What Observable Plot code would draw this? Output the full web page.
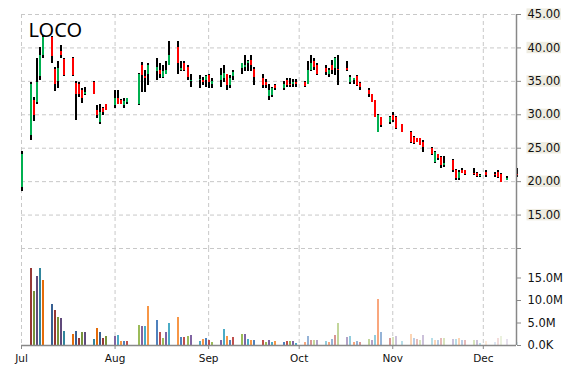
<!DOCTYPE html>
<html>
<head>
<meta charset="utf-8">
<script src="https://cdn.jsdelivr.net/npm/d3@7"></script>
<script src="https://cdn.jsdelivr.net/npm/@observablehq/plot@0.6"></script>
<style>
  html, body { margin: 0; padding: 0; background: #fff; }
  #chart { position: relative; width: 570px; height: 370px; overflow: hidden; }
  #chart svg { position: absolute; left: 0; display: block; }
</style>
</head>
<body>
<div id="chart"></div>
<script>
// ---------------- data ----------------
const ticker = "LOCO";
const dates = [
  "2016-07-01",
  "2016-07-04","2016-07-05","2016-07-06","2016-07-07","2016-07-08",
  "2016-07-11","2016-07-12","2016-07-13","2016-07-14","2016-07-15",
  "2016-07-18","2016-07-19","2016-07-20","2016-07-21","2016-07-22",
  "2016-07-25","2016-07-26","2016-07-27","2016-07-28","2016-07-29",
  "2016-08-01","2016-08-02","2016-08-03","2016-08-04","2016-08-05",
  "2016-08-09","2016-08-10","2016-08-11","2016-08-12",
  "2016-08-15","2016-08-16","2016-08-17","2016-08-18","2016-08-19",
  "2016-08-22","2016-08-23","2016-08-24","2016-08-25","2016-08-26",
  "2016-08-29","2016-08-30","2016-08-31","2016-09-01","2016-09-02",
  "2016-09-05","2016-09-06","2016-09-07","2016-09-08","2016-09-09",
  "2016-09-12","2016-09-13","2016-09-14","2016-09-15","2016-09-16",
  "2016-09-19","2016-09-20","2016-09-21","2016-09-22","2016-09-23",
  "2016-09-26","2016-09-27","2016-09-28","2016-09-29","2016-09-30",
  "2016-10-03","2016-10-04","2016-10-05","2016-10-06","2016-10-07",
  "2016-10-10","2016-10-11","2016-10-12","2016-10-13","2016-10-14",
  "2016-10-17","2016-10-18","2016-10-19","2016-10-20","2016-10-21",
  "2016-10-24","2016-10-25","2016-10-26","2016-10-27","2016-10-28",
  "2016-10-31","2016-11-01","2016-11-02","2016-11-04",
  "2016-11-07","2016-11-08","2016-11-09","2016-11-10","2016-11-11",
  "2016-11-14","2016-11-15","2016-11-16","2016-11-17","2016-11-18",
  "2016-11-21","2016-11-22","2016-11-23","2016-11-24","2016-11-25",
  "2016-11-28","2016-11-29","2016-11-30","2016-12-02",
  "2016-12-05","2016-12-06","2016-12-07","2016-12-09",
  "2016-12-12"
];
const opens = [
  19.15,
  26.9, 32.1, 31.9, 35.7, 38.9,
  41.6, 36.8, 35.0, 39.5, 38.2,
  38.4, 34.7, 34.6, 33.6, 33.1,
  34.9, 30.6, 28.9, 30.9, 31.5,
  31.4, 32.5, 32.2, 31.4, 31.9,
  31.6, 37.4, 35.8, 36.1,
  36.5, 36.6, 35.6, 36.1, 37.4,
  40.1, 36.6, 37.6, 37.1, 35.0,
  35.1, 35.2, 35.1, 35.9, 34.6,
  35.2, 35.5, 36.1, 34.4, 35.8,
  36.9, 37.1, 37.6, 38.1, 36.7,
  35.4, 34.9, 32.7, 32.9, 34.4,
  33.9, 35.1, 34.6, 34.6, 34.9,
  34.9, 34.6, 36.6, 37.9, 37.4,
  36.9, 36.1, 37.4, 36.9, 36.8,
  36.9, 34.9, 35.1, 35.8, 34.7,
  33.7, 33.0, 32.1, 27.4, 29.6,
  28.8, 29.9, 29.6, 28.6,
  27.4, 26.6, 26.4, 26.5, 25.9,
  24.9, 22.9, 24.0, 23.6, 22.4,
  23.1, 21.7, 20.4, 21.7, 21.6,
  21.2, 21.2, 20.8, 21.3,
  21.0, 21.3, 21.0, 20.1,
  21.0
];
const highs = [
  24.5,
  34.9, 32.6, 38.4, 40.1, 41.8,
  41.7, 37.1, 38.0, 40.4, 38.4,
  38.5, 35.0, 34.8, 33.9, 34.1,
  35.0, 31.4, 31.6, 31.1, 31.6,
  33.7, 33.7, 32.3, 32.4, 32.5,
  36.2, 37.8, 36.6, 37.6,
  38.4, 37.6, 37.4, 37.9, 40.9,
  40.9, 37.9, 37.9, 37.3, 36.1,
  35.9, 35.6, 35.9, 36.1, 35.5,
  36.9, 37.4, 36.1, 35.9, 36.6,
  37.6, 38.9, 38.1, 38.9, 37.0,
  36.1, 35.3, 34.6, 34.1, 34.6,
  35.0, 35.5, 35.5, 35.3, 35.3,
  35.0, 37.9, 38.9, 38.4, 37.6,
  37.4, 36.9, 38.1, 38.6, 38.9,
  37.9, 35.9, 35.5, 35.9, 34.9,
  33.9, 33.1, 32.2, 30.1, 29.6,
  29.8, 30.4, 29.7, 28.6,
  27.5, 26.7, 26.5, 26.5, 26.1,
  25.1, 24.5, 24.1, 23.7, 23.7,
  23.3, 21.8, 21.6, 22.0, 21.7,
  21.9, 21.3, 21.0, 21.6,
  21.4, 21.6, 21.2, 20.7,
  21.9
];
const lows = [
  18.55,
  26.1, 29.0, 31.6, 35.1, 38.4,
  37.6, 33.5, 34.0, 38.4, 35.8,
  35.8, 29.1, 32.6, 31.7, 32.9,
  33.0, 29.4, 28.6, 29.9, 30.6,
  31.0, 31.5, 31.5, 31.0, 31.5,
  31.4, 33.4, 33.4, 34.4,
  35.1, 35.4, 35.4, 36.1, 37.4,
  36.1, 36.4, 36.4, 35.2, 34.1,
  33.9, 34.4, 34.1, 34.0, 34.0,
  34.1, 34.9, 33.7, 33.9, 35.1,
  36.1, 36.4, 36.4, 36.4, 34.4,
  33.9, 33.9, 32.1, 32.6, 33.6,
  33.6, 34.1, 34.1, 34.1, 34.1,
  34.1, 34.6, 36.4, 36.6, 35.9,
  35.9, 35.6, 36.1, 35.9, 34.4,
  36.4, 34.6, 34.5, 34.3, 33.6,
  32.6, 31.8, 29.6, 27.4, 28.1,
  28.6, 28.9, 27.8, 27.4,
  25.7, 25.6, 25.9, 25.4, 24.4,
  23.9, 22.7, 23.1, 21.9, 22.1,
  21.4, 20.2, 20.2, 21.2, 20.9,
  20.9, 20.6, 20.6, 20.6,
  20.6, 20.4, 19.9, 20.1,
  20.6
];
const closes = [
  24.0,
  34.6, 29.9, 34.8, 38.9, 41.6,
  38.7, 34.5, 36.9, 38.9, 35.9,
  35.9, 33.1, 33.1, 32.4, 33.4,
  33.1, 29.9, 30.4, 30.4, 30.6,
  32.4, 31.6, 31.6, 32.0, 32.4,
  36.1, 35.9, 35.4, 37.4,
  37.0, 36.0, 36.4, 36.6, 38.9,
  37.6, 36.9, 36.6, 35.6, 35.2,
  35.3, 34.9, 35.7, 34.9, 35.0,
  35.9, 36.2, 34.4, 35.4, 36.3,
  37.6, 37.4, 37.9, 37.4, 35.6,
  34.4, 34.4, 33.6, 33.9, 33.9,
  34.6, 34.4, 34.4, 34.9, 34.6,
  34.2, 36.6, 37.6, 37.1, 36.1,
  36.3, 36.6, 36.6, 38.4, 36.6,
  36.6, 35.6, 35.4, 34.4, 34.1,
  33.1, 31.9, 29.6, 29.9, 28.4,
  29.6, 29.2, 27.9, 27.4,
  25.8, 25.7, 25.9, 25.4, 25.1,
  24.1, 24.3, 23.4, 22.4, 22.7,
  21.6, 20.4, 21.4, 21.2, 21.0,
  21.1, 20.7, 20.9, 20.9,
  20.9, 20.6, 19.9, 20.5,
  20.9
];
// volume in millions of shares
const volumes = [
  0,
  17.1, 11.9, 15.3, 17.1, 14.4,
  9.1, 7.7, 6.2, 6.0, 3.1,
  2.4, 3.1, 1.5, 2.9, 2.9,
  1.3, 3.8, 2.9, 1.5, 2.0,
  2.0, 2.2, 0.9, 0.9, 0.9,
  4.4, 4.2, 4.2, 8.6,
  5.5, 2.9, 1.5, 2.9, 4.9,
  6.2, 1.8, 1.8, 2.0, 2.2,
  0.9, 1.3, 1.5, 1.1, 0.7,
  1.1, 3.5, 2.0, 1.1, 1.8,
  2.4, 2.4, 1.3, 1.1, 1.1,
  1.1, 0.7, 1.1, 0.7, 0.9,
  0.7, 0.9, 0.9, 0.9, 0.4,
  0.7, 2.0, 1.1, 1.1, 1.1,
  0.9, 0.7, 1.3, 2.2, 4.9,
  1.8, 2.0, 0.7, 0.9, 0.7,
  1.3, 1.1, 2.2, 10.3, 2.9,
  1.5, 1.8, 2.0, 0.9,
  2.4, 1.5, 1.3, 1.1, 2.2,
  1.5, 1.1, 1.1, 1.5, 1.5,
  1.3, 1.3, 1.5, 1.1, 1.1,
  1.1, 1.1, 0.4, 0.9,
  0.7, 1.5, 2.0, 1.3,
  0.7
];
const monthStarts = ["2016-07-01","2016-08-01","2016-09-01","2016-10-01","2016-11-01","2016-12-01"];
const priceTicks = [10, 15, 20, 25, 30, 35, 40, 45];
const volumeTicks = [0, 5, 10, 15];

// ---------------- styles ----------------
// volume bar palette: 6 hues cycling, shade depends on month
const shades = {
  6: ["#376092","#953735","#77933C","#604A7B","#31859C","#E46C0A"],
  7: ["#4F81BD","#C0504D","#9BBB59","#8064A2","#4BACC6","#F79646"],
  8: ["#4F81BD","#C0504D","#9BBB59","#8064A2","#4BACC6","#F79646"],
  9: ["#95B3D7","#D99694","#C3D69B","#B3A2C7","#93CDDD","#F9A77E"],
  10: ["#B9CDE5","#E6B9B8","#D7E4BD","#CCC1DA","#B7DEE8","#FCD5B5"],
  11: ["#DCE6F2","#F2DCDB","#EBF1DE","#E6E0EC","#DBEEF4","#FDEADA"]
};
const UP = "#00B050", DOWN = "#FF0000", GRID = "#c8c8c8", AXIS = "#888888";

const parse = d3.utcParse("%Y-%m-%d");
const rows = dates.map((d, i) => {
  const date = parse(d);
  return {
    date, open: opens[i], high: highs[i], low: lows[i], close: closes[i],
    volume: volumes[i] * 1e6,
    barColor: shades[date.getUTCMonth()][i % 6],
    bodyColor: closes[i] >= opens[i] ? UP : DOWN
  };
});
const months = monthStarts.map(parse);
const xDomain = [parse(dates[0]), parse(dates[dates.length - 1])];

const common = {
  width: 570, marginLeft: 21, marginRight: 54,
  style: { fontFamily: "DejaVu Sans", fontSize: "11.5px", color: "#111", background: "transparent", overflow: "visible" },
  x: { type: "utc", domain: xDomain, axis: null },
  color: { type: "identity" }
};

const pricePlot = Plot.plot({
  ...common,
  height: 248, marginTop: 14, marginBottom: 0,
  y: { domain: [10, 45], axis: null },
  marks: [
    Plot.ruleY(priceTicks, { stroke: GRID, strokeDasharray: "4,3" }),
    Plot.ruleX(months, { stroke: GRID, strokeDasharray: "4,3" }),
    Plot.ruleX(rows, { x: "date", y1: "low", y2: "high", stroke: "#000", strokeWidth: 2, shapeRendering: "crispEdges" }),
    Plot.ruleX(rows, { x: "date", y1: "open", y2: "close", stroke: "bodyColor", strokeWidth: 2, shapeRendering: "crispEdges" }),
    Plot.ruleX([xDomain[1]], { stroke: AXIS, strokeWidth: 1.5 }),
    Plot.axisY({ anchor: "right", ticks: priceTicks, tickFormat: d => d === 10 ? "" : d.toFixed(2),
      label: null, tickSize: 4, tickPadding: 7, stroke: AXIS, fill: "#111", textAnchor: "start" }),
    Plot.text([ticker], { frameAnchor: "top-left", dx: 7, dy: 8, lineAnchor: "top", textAnchor: "start",
      fontSize: 20, fontFamily: "Noto Sans", fill: "#000" })
  ]
});

const volumePlot = Plot.plot({
  ...common,
  height: 122, marginTop: 0, marginBottom: 25,
  y: { domain: [0, 97 / 4.5 * 1e6], axis: null },
  marks: [
    Plot.ruleX(months, { stroke: GRID, strokeDasharray: "4,3" }),
    Plot.ruleX(rows, { x: "date", y1: 0, y2: "volume", stroke: "barColor", strokeWidth: 2, shapeRendering: "crispEdges" }),
    Plot.ruleY([0], { stroke: AXIS, strokeWidth: 1.5 }),
    Plot.ruleX([xDomain[1]], { stroke: AXIS, strokeWidth: 1.5 }),
    Plot.axisY({ anchor: "right", ticks: volumeTicks.map(v => v * 1e6),
      tickFormat: d => d === 0 ? "0.0K" : (d / 1e6).toFixed(1) + "M",
      label: null, tickSize: 4, tickPadding: 7, stroke: AXIS, fill: "#111", textAnchor: "start" }),
    Plot.axisX({ anchor: "bottom", ticks: months, tickFormat: d3.utcFormat("%b"),
      label: null, tickSize: 4, tickPadding: 5, stroke: AXIS, fill: "#111", fontSize: 10.5 })
  ]
});

const chart = document.getElementById("chart");
pricePlot.style.top = "0px";
volumePlot.style.top = "248px";
chart.appendChild(pricePlot);
chart.appendChild(volumePlot);

// beige label boxes behind the price tick labels
d3.select(pricePlot).selectAll('g[aria-label="y-axis tick label"] text').each(function () {
  if (!this.textContent) return;
  const b = this.getBBox();
  const t = this.getAttribute("transform");
  const rect = document.createElementNS("http://www.w3.org/2000/svg", "rect");
  rect.setAttribute("x", b.x - 1);
  rect.setAttribute("y", b.y + 1.2);
  rect.setAttribute("width", b.width + 1.5);
  rect.setAttribute("height", 11.4);
  rect.setAttribute("fill", "#EEECE1");
  if (t) rect.setAttribute("transform", t);
  this.parentNode.insertBefore(rect, this);
});
</script>
</body>
</html>
